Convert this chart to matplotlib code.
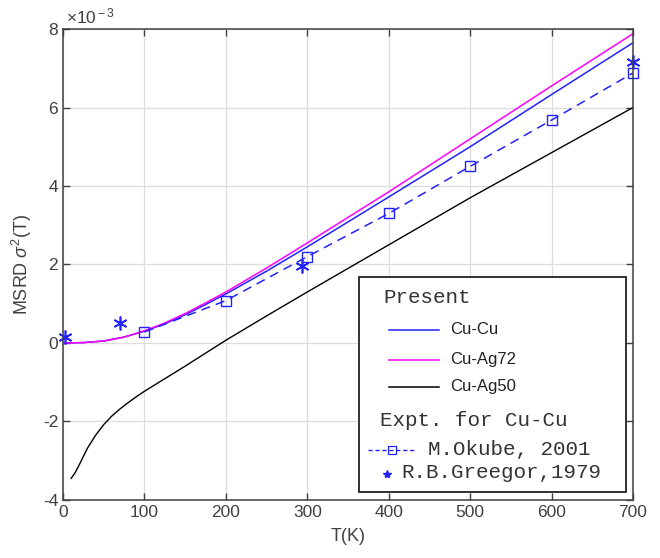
import matplotlib.pyplot as plt
from matplotlib.patches import Rectangle

plt.rcParams["font.family"] = ["Liberation Sans", "DejaVu Sans"]
plt.rcParams["mathtext.fontset"] = "custom"
plt.rcParams["mathtext.rm"] = "Liberation Sans"
plt.rcParams["mathtext.it"] = "Liberation Sans:italic"

# curvas calculadas (x1e-3)
T_calc = [0, 25, 50, 75, 100, 125, 150, 175, 200, 250, 300, 400, 500, 600, 700]
cu_cu = [0, 0.01, 0.05, 0.15, 0.30, 0.49, 0.72, 0.98, 1.25, 1.83, 2.45, 3.72, 5.0, 6.33, 7.65]
cu_ag72 = [0, 0.01, 0.05, 0.15, 0.31, 0.51, 0.75, 1.02, 1.30, 1.91, 2.55, 3.85, 5.2, 6.55, 7.88]

T_ag50 = [10, 15, 20, 30, 40, 50, 60, 70, 80, 90, 100, 125, 150, 175, 200, 250, 300, 400, 500, 600, 700]
cu_ag50 = [-3.45, -3.3, -3.1, -2.68, -2.35, -2.08, -1.86, -1.68, -1.52, -1.37, -1.23, -0.91, -0.59,
           -0.26, 0.07, 0.69, 1.3, 2.5, 3.7, 4.85, 6.0]

# experimentales
T_okube = [100, 200, 300, 400, 500, 600, 700]
okube = [0.28, 1.08, 2.2, 3.3, 4.5, 5.68, 6.88]
T_greegor = [2, 70, 293, 700]
greegor = [0.14, 0.5, 1.97, 7.16]

azul = "#2222ff"
gris = "#404040"
mono = "Liberation Mono"

fig = plt.figure(figsize=(6.6, 5.58), dpi=100)
ax = fig.add_axes([0.0955, 0.104, 0.8636, 0.844])

s = 1e-3
ax.plot(T_calc, [v * s for v in cu_cu], color=azul, lw=1.1)
ax.plot(T_calc, [v * s for v in cu_ag72], color="#ff00ff", lw=1.1)
ax.plot(T_ag50, [v * s for v in cu_ag50], color="black", lw=1.0)
ax.plot(T_okube, [v * s for v in okube], "--s", color=azul, lw=1.1, ms=7,
        mfc="none", mew=1.0, dashes=(6, 4), clip_on=False)
ax.plot(T_greegor, [v * s for v in greegor], ls="none", marker=(6, 2, 0), color=azul,
        ms=10, mew=1.2, clip_on=False)

ax.set_xlim(0, 700)
ax.set_ylim(-4e-3, 8e-3)
ax.set_xticks(range(0, 701, 100))
ax.set_yticks([-4e-3, -2e-3, 0, 2e-3, 4e-3, 6e-3, 8e-3])
ax.set_yticklabels(["-4", "-2", "0", "2", "4", "6", "8"])
ax.grid(True, color="#dddddd", lw=0.9)
ax.set_axisbelow(True)
ax.tick_params(direction="in", top=True, right=True, labelsize=12.5, colors=gris,
               length=5, width=1)
for sp in ax.spines.values():
    sp.set_color(gris)
    sp.set_linewidth(1.1)

ax.set_xlabel("T(K)", fontsize=13, color=gris, labelpad=6)
ax.set_ylabel(r"MSRD $\sigma^2$(T)", fontsize=13, color=gris, labelpad=6)
ax.text(0.005, 1.005, r"$\times$10$^{\rm -3}$", transform=ax.transAxes, fontsize=12.5,
        color=gris, va="bottom", ha="left")

# leyenda dibujada a mano
def fx(px):
    return (px - 63) / 570.0

def fy(py):
    return (500 - py) / 471.0

ax.add_patch(Rectangle((fx(359), fy(492)), fx(626) - fx(359), fy(277) - fy(492),
                       transform=ax.transAxes, facecolor="white", edgecolor="#222222",
                       lw=1.3, zorder=5))
ax.text(fx(383), fy(298), "Present", transform=ax.transAxes, family=mono, fontsize=15,
        color="#333333", va="center", zorder=6)
filas = [("Cu-Cu", azul, 330), ("Cu-Ag72", "#ff00ff", 360), ("Cu-Ag50", "black", 387)]
for nombre, c, y in filas:
    ax.plot([fx(389), fx(439)], [fy(y), fy(y)], color=c, lw=1.1, transform=ax.transAxes,
            zorder=6)
    ax.text(fx(450), fy(y), nombre, transform=ax.transAxes, fontsize=12,
            color="#222222", va="center", zorder=6)
ax.text(fx(380), fy(421), "Expt. for Cu-Cu", transform=ax.transAxes, family=mono,
        fontsize=15, color="#333333", va="center", zorder=6)
ax.plot([fx(368), fx(415)], [fy(450), fy(450)], "--", color=azul, lw=1.0,
        dashes=(3, 2), transform=ax.transAxes, zorder=6)
ax.plot([fx(391.5)], [fy(450)], "s", color=azul, mfc="none", ms=6, mew=0.9,
        transform=ax.transAxes, zorder=7)
ax.text(fx(428), fy(450), "M.Okube, 2001", transform=ax.transAxes, family=mono,
        fontsize=15, color="#333333", va="center", zorder=6)
ax.plot([fx(387)], [fy(474)], ls="none", marker="*", color=azul, ms=6,
        transform=ax.transAxes, zorder=7)
ax.text(fx(401), fy(473), "R.B.Greegor,1979", transform=ax.transAxes, family=mono,
        fontsize=15, color="#333333", va="center", zorder=6)

fig.savefig("out.png", dpi=100)
